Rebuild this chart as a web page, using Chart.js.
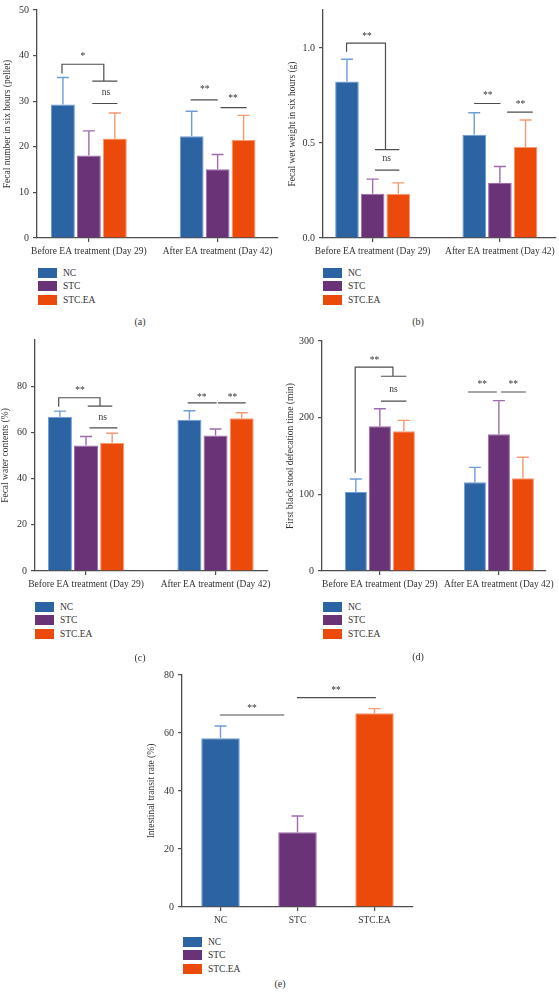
<!DOCTYPE html>
<html>
<head>
<meta charset="utf-8">
<script src="https://cdn.jsdelivr.net/npm/chart.js@4.4.0/dist/chart.umd.min.js"></script>
<style>
  body { margin: 0; background: #fff; }
  #page { position: relative; width: 559px; height: 994px; font-family: 'Liberation Serif', serif; color: #333; }
  #page canvas { position: absolute; }
  .leg { position: absolute; font-size: 9.5px; }
  .leg div { height: 13.5px; display: flex; align-items: center; }
  .leg .box { display: inline-block; width: 19px; height: 10px; margin-right: 6px; }
  .tag { position: absolute; font-size: 10px; transform: translate(-50%, -50%); }
</style>
</head>
<body>
<div id="page">
  <canvas id="cA" width="280" height="262" style="left:0;top:0"></canvas>
  <canvas id="cB" width="279" height="262" style="left:280px;top:0"></canvas>
  <canvas id="cC" width="280" height="265" style="left:0;top:330px"></canvas>
  <canvas id="cD" width="279" height="265" style="left:280px;top:330px"></canvas>
  <canvas id="cE" width="300" height="272" style="left:140px;top:660px"></canvas>
  <div class="leg" id="lA" style="left:38px;top:266px"></div>
  <div class="leg" id="lB" style="left:323px;top:266px"></div>
  <div class="leg" id="lC" style="left:35px;top:600px"></div>
  <div class="leg" id="lD" style="left:323px;top:600px"></div>
  <div class="leg" id="lE" style="left:183px;top:935px"></div>
  <div class="tag" style="left:140px;top:321px">(a)</div>
  <div class="tag" style="left:418px;top:321px">(b)</div>
  <div class="tag" style="left:140px;top:657px">(c)</div>
  <div class="tag" style="left:418px;top:656px">(d)</div>
  <div class="tag" style="left:280px;top:983px">(e)</div>
</div>
<script>
(function () {
  'use strict';

  const GROUPS = ['NC', 'STC', 'STC.EA'];
  const PERIODS = ['Before EA treatment (Day 29)', 'After EA treatment (Day 42)'];

  // (a) fecal number in six hours (pellet): mean and SD, [before, after]
  const numNC = [29.3, 22.3], numNCsd = [5.9, 5.5];
  const numSTC = [18.1, 15.1], numSTCsd = [5.4, 3.2];
  const numEA = [21.8, 21.5], numEAsd = [5.6, 5.4];

  // (b) fecal wet weight in six hours (g)
  const wetNC = [0.824, 0.543], wetNCsd = [0.117, 0.116];
  const wetSTC = [0.233, 0.29], wetSTCsd = [0.077, 0.086];
  const wetEA = [0.233, 0.479], wetEAsd = [0.057, 0.142];

  // (c) fecal water contents (%)
  const watNC = [66.8, 65.5], watNCsd = [2.4, 3.9];
  const watSTC = [54.3, 58.7], watSTCsd = [3.9, 2.8];
  const watEA = [55.4, 66.1], watEAsd = [4.2, 2.4];

  // (d) first black stool defecation time (min)
  const fbNC = [103, 115.7], fbNCsd = [17, 19.5];
  const fbSTC = [188.7, 178.3], fbSTCsd = [23, 43.9];
  const fbEA = [182.2, 120.9], fbEAsd = [14.3, 27.4];

  // (e) intestinal transit rate (%), one value per group
  const itr = [58.2, 25.8, 66.8], itrSd = [4.2, 5.6, 1.6];

  // significance marks, in axis units: lines [x1, v1, x2, v2], texts [x, v, str]
  const sigA = {
    lines: [[-0.209, 36.2, -0.209, 38.1], [-0.209, 38.1, 0.116, 38.1], [0.116, 38.1, 0.116, 34.4],
            [0.031, 34.4, 0.217, 34.4], [0.031, 29.5, 0.217, 29.5],
            [0.795, 30.3, 0.996, 30.3], [1.027, 28.6, 1.221, 28.6]],
    texts: [[-0.047, 39.8, '*'], [0.132, 32.0, 'ns'], [0.9, 32.5, '**'], [1.12, 30.5, '**']],
  };
  const sigB = {
    lines: [[-0.205, 0.983, -0.205, 1.026], [-0.205, 1.026, 0.101, 1.026], [0.101, 1.026, 0.101, 0.465],
            [0.023, 0.465, 0.205, 0.465], [0.023, 0.357, 0.205, 0.357],
            [0.802, 0.708, 1.0, 0.708], [1.061, 0.663, 1.253, 0.663]],
    texts: [[-0.044, 1.06, '**'], [0.111, 0.416, 'ns'], [0.905, 0.75, '**'], [1.162, 0.703, '**']],
  };
  const sigC = {
    lines: [[-0.211, 71.4, -0.211, 75.0], [-0.211, 75.0, 0.108, 75.0], [0.108, 75.0, 0.108, 71.4],
            [0.018, 71.4, 0.198, 71.4], [0.031, 62.0, 0.237, 62.0],
            [0.79, 72.8, 1.004, 72.8], [1.022, 72.8, 1.228, 72.8]],
    texts: [[-0.046, 78.3, '**'], [0.129, 66.4, 'ns'], [0.893, 75.3, '**'], [1.13, 75.3, '**']],
  };
  const sigD = {
    lines: [[-0.207, 129, -0.207, 266], [-0.207, 266, 0.11, 266], [0.11, 266, 0.11, 254],
            [0.015, 254, 0.218, 254], [0.015, 221.7, 0.218, 221.7],
            [0.746, 233.5, 0.977, 233.5], [1.023, 233.5, 1.221, 233.5]],
    texts: [[-0.045, 274, '**'], [0.115, 236.6, 'ns'], [0.86, 243, '**'], [1.12, 243, '**']],
  };
  const sigE = {
    lines: [[0.0, 66.2, 0.82, 66.2], [1.0, 72.2, 2.01, 72.2]],
    texts: [[0.41, 68.6, '**'], [1.5, 74.5, '**']],
  };

  const COL = { NC: '#2c63a2', STC: '#6a3377', EA: '#ec4a0b' };
  const ERR = { NC: '#6f9dd6', STC: '#9e6cad', EA: '#f79a72' };
  const AXIS = '#4d4d4d';
  const TXT = '#333';
  const SERIF = "'Liberation Serif', 'DejaVu Serif', serif";

  function errPlugin() {
    return {
      id: 'errbars',
      afterDatasetsDraw(chart) {
        const ctx = chart.ctx, y = chart.scales.y;
        chart.data.datasets.forEach((ds, di) => {
          const meta = chart.getDatasetMeta(di);
          meta.data.forEach((bar, i) => {
            const top = y.getPixelForValue(ds.means[i] + ds.sd[i]);
            ctx.save();
            ctx.strokeStyle = Array.isArray(ds.errColor) ? ds.errColor[i] : ds.errColor;
            ctx.lineWidth = 1.4;
            ctx.beginPath();
            ctx.moveTo(bar.x, bar.y); ctx.lineTo(bar.x, top);
            ctx.moveTo(bar.x - 6, top); ctx.lineTo(bar.x + 6, top);
            ctx.stroke();
            ctx.restore();
          });
        });
      },
    };
  }

  function sigPlugin(sig) {
    return {
      id: 'sig',
      afterDatasetsDraw(chart) {
        const ctx = chart.ctx, x = chart.scales.x, y = chart.scales.y;
        ctx.save();
        ctx.strokeStyle = AXIS; ctx.lineWidth = 1.2; ctx.lineCap = 'square';
        ctx.beginPath();
        sig.lines.forEach((l) => {
          ctx.moveTo(x.getPixelForValue(l[0]), y.getPixelForValue(l[1]));
          ctx.lineTo(x.getPixelForValue(l[2]), y.getPixelForValue(l[3]));
        });
        ctx.stroke();
        ctx.fillStyle = TXT; ctx.textAlign = 'center'; ctx.textBaseline = 'middle';
        ctx.font = '9.5px ' + SERIF;
        sig.texts.forEach((t) => ctx.fillText(t[2], x.getPixelForValue(t[0]), y.getPixelForValue(t[1])));
        ctx.restore();
      },
    };
  }

  function series(label, key, means, sd) {
    return { label, key, means, sd, color: COL[key], errColor: ERR[key] };
  }

  function panel(id, cfg) {
    const datasets = cfg.series.map((s) => ({
      label: s.label,
      data: s.means.map((v, i) => ({ x: i, y: v })),
      means: s.means,
      sd: s.sd,
      errColor: s.errColor,
      backgroundColor: s.color,
      borderColor: s.errColor,
      borderWidth: 1,
      categoryPercentage: cfg.catPct,
      barPercentage: cfg.barPct,
    }));
    new Chart(document.getElementById(id), {
      type: 'bar',
      data: { datasets },
      options: {
        responsive: false, animation: false, events: [],
        layout: { padding: cfg.pad },
        plugins: { legend: { display: false }, tooltip: { enabled: false } },
        scales: {
          x: {
            type: 'linear', min: cfg.xMin, max: cfg.xMax, offset: false,
            afterBuildTicks: (s) => { s.ticks = cfg.xLabels.map((_, i) => ({ value: i })); },
            afterFit: (s) => { s.height = cfg.xH; },
            ticks: { callback: (v) => cfg.xLabels[v], autoSkip: false, maxRotation: 0, color: TXT, font: { family: SERIF, size: 9.5 }, padding: 4 },
            grid: { drawOnChartArea: false, offset: false, tickLength: 4, color: AXIS, lineWidth: 1.2 },
            border: { color: AXIS, width: 1.3 },
          },
          y: {
            min: 0, max: cfg.yMax,
            afterBuildTicks: (s) => { s.ticks = s.ticks.filter((t) => t.value <= cfg.yTop + 1e-9); },
            afterFit: (s) => { s.width = cfg.yW; },
            ticks: { stepSize: cfg.step, includeBounds: false, callback: cfg.fmt || ((v) => String(v)), color: TXT, font: { family: SERIF, size: 10 }, padding: 4 },
            grid: { drawOnChartArea: false, tickLength: 4, color: AXIS, lineWidth: 1.2 },
            border: { color: AXIS, width: 1.3 },
            title: { display: true, text: cfg.title, color: TXT, font: { family: SERIF, size: 9.5 }, padding: { top: cfg.titlePad, bottom: 0 } },
          },
        },
      },
      plugins: [errPlugin(), sigPlugin(cfg.sig)],
    });
  }

  function legend(id) {
    const keys = ['NC', 'STC', 'EA'];
    document.getElementById(id).innerHTML = GROUPS.map((g, i) =>
      '<div><span class="box" style="background:' + COL[keys[i]] + '"></span>' + g + '</div>').join('');
  }

  const BAR = { catPct: 0.605, barPct: 0.92, xLabels: PERIODS, xH: 24 };

  panel('cA', Object.assign({}, BAR, {
    series: [series('NC', 'NC', numNC, numNCsd), series('STC', 'STC', numSTC, numSTCsd), series('STC.EA', 'EA', numEA, numEAsd)],
    pad: { top: 5, right: 2, left: 0, bottom: 0 }, yW: 37, xMin: -0.403, xMax: 1.469,
    yMax: 50, yTop: 50, step: 10, titlePad: 1.3, sig: sigA,
    title: 'Fecal number in six hours (pellet)',
  }));
  panel('cB', Object.assign({}, BAR, {
    series: [series('NC', 'NC', wetNC, wetNCsd), series('STC', 'STC', wetSTC, wetSTCsd), series('STC.EA', 'EA', wetEA, wetEAsd)],
    pad: { top: 6, right: 1, left: 0, bottom: 0 }, yW: 43, xMin: -0.39, xMax: 1.44,
    yMax: 1.2, yTop: 1.0, step: 0.5, fmt: (v) => v.toFixed(1), titlePad: 6.8, sig: sigB,
    title: 'Fecal wet weight in six hours (g)',
  }));
  panel('cC', Object.assign({}, BAR, {
    series: [series('NC', 'NC', watNC, watNCsd), series('STC', 'STC', watSTC, watSTCsd), series('STC.EA', 'EA', watEA, watEAsd)],
    pad: { top: 9, right: 12, left: 0, bottom: 0 }, yW: 35, xMin: -0.394, xMax: 1.405,
    yMax: 100, yTop: 80, step: 20, titlePad: 0, sig: sigC,
    title: 'Fecal water contents (%)',
  }));
  panel('cD', Object.assign({}, BAR, {
    series: [series('NC', 'NC', fbNC, fbNCsd), series('STC', 'STC', fbSTC, fbSTCsd), series('STC.EA', 'EA', fbEA, fbEAsd)],
    pad: { top: 11, right: 6, left: 0, bottom: 0 }, yW: 42, xMin: -0.486, xMax: 1.394,
    yMax: 300, yTop: 300, step: 100, titlePad: 4.3, sig: sigD,
    title: 'First black stool defecation time (min)',
  }));
  panel('cE', {
    series: [{ label: 'Intestinal transit rate', means: itr, sd: itrSd, color: [COL.NC, COL.STC, COL.EA], errColor: [ERR.NC, ERR.STC, ERR.EA] }],
    catPct: 0.5, barPct: 1, xLabels: GROUPS, xH: 25,
    pad: { top: 15, right: 27, left: 0, bottom: 0 }, yW: 42, xMin: -0.5, xMax: 2.5,
    yMax: 80, yTop: 80, step: 20, titlePad: 6, sig: sigE,
    title: 'Intestinal transit rate (%)',
  });

  ['lA', 'lB', 'lC', 'lD', 'lE'].forEach(legend);
})();
</script>
</body>
</html>
